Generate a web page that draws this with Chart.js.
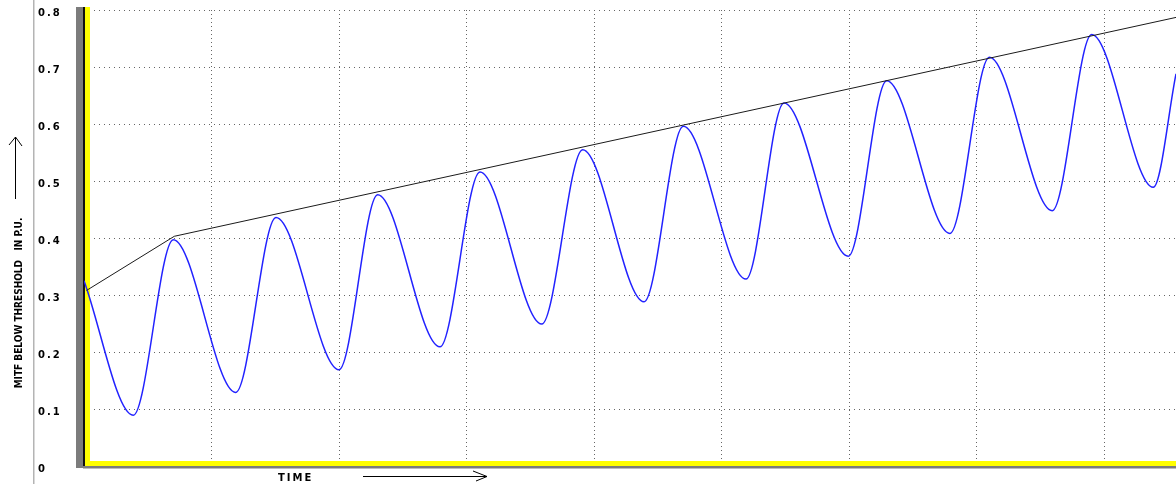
<!DOCTYPE html>
<html>
<head>
<meta charset="utf-8">
<script src="https://cdn.jsdelivr.net/npm/chart.js@4.4.1/dist/chart.umd.min.js"></script>
<style>
  html, body { margin: 0; padding: 0; background: #fff; }
  #wrap { width: 1176px; height: 484px; position: relative; }
</style>
</head>
<body>
<div id="wrap"><canvas id="mitfChart"></canvas></div>
<script>
// MITF response (time in grid units)
const waveTime = [0, 0.386, 0.700, 1.189, 1.505, 1.999, 2.302, 2.790, 3.104, 3.588, 3.909, 4.390,
                  4.698, 5.189, 5.487, 5.991, 6.292, 6.788, 7.097, 7.590, 7.899, 8.382, 8.560];
const waveMitf = [0.325, 0.089, 0.397, 0.129, 0.436, 0.169, 0.476, 0.209, 0.516, 0.249, 0.555, 0.288,
                  0.596, 0.328, 0.637, 0.368, 0.676, 0.408, 0.717, 0.448, 0.757, 0.489, 0.688];

// envelope through the peaks
const envTime = [0.02, 0.708, 8.56];
const envMitf = [0.308, 0.403, 0.787];

const xTicks = [0, 1, 2, 3, 4, 5, 6, 7, 8];
const yTicks = [0, 0.1, 0.2, 0.3, 0.4, 0.5, 0.6, 0.7, 0.8];
const yTickLabels = ['0', '0.1', '0.2', '0.3', '0.4', '0.5', '0.6', '0.7', '0.8'];

const yTitle = 'MITF BELOW THRESHOLD   IN P.U.';
const xTitle = 'TIME';

const toPoints = (xs, ys) => xs.map((x, i) => ({ x, y: ys[i] }));

const framePlugin = {
  id: 'frame',
  beforeDraw(chart) {
    chart.ctx.letterSpacing = '2px';
  },
  beforeDatasetsDraw(chart) {
    const { ctx, chartArea: a } = chart;
    const h = a.bottom - a.top;
    ctx.save();
    // grey shadow, left and bottom
    ctx.fillStyle = '#7c7c7c';
    ctx.fillRect(a.left - 8, a.top - 3, 7, h + 5);
    ctx.fillRect(a.left - 1, a.bottom, a.right - a.left + 1, 2.5);
    ctx.fillStyle = '#111';
    ctx.fillRect(a.left - 1, a.top - 3, 2, h + 3);
    // yellow axes
    ctx.fillStyle = '#ffff00';
    ctx.fillRect(a.left + 1, a.top - 3, 5, h + 3);
    ctx.fillRect(a.left + 1, a.bottom - 5, a.right - a.left, 5);
    ctx.restore();
  },
  afterDraw(chart) {
    const ctx = chart.ctx;
    ctx.save();
    ctx.letterSpacing = '0px';
    // thin grey rule left of the tick labels
    ctx.fillStyle = '#b4b4b4';
    ctx.fillRect(33, 0, 1.5, 484);

    // y title + arrow
    ctx.fillStyle = '#000';
    ctx.font = 'bold 10px "DejaVu Sans Condensed", "DejaVu Sans", sans-serif';
    ctx.textAlign = 'center';
    ctx.textBaseline = 'middle';
    ctx.save();
    ctx.translate(19, 303);
    ctx.rotate(-Math.PI / 2);
    ctx.fillText(yTitle, 0, 0, 180);
    ctx.restore();

    ctx.strokeStyle = '#000';
    ctx.lineWidth = 1;
    ctx.beginPath();
    ctx.moveTo(15.5, 199); ctx.lineTo(15.5, 137);
    ctx.moveTo(15.5, 137); ctx.lineTo(9, 145);
    ctx.moveTo(15.5, 137); ctx.lineTo(22, 146);
    ctx.stroke();

    // x title + arrow
    ctx.letterSpacing = '2px';
    ctx.font = 'bold 10px "DejaVu Sans", sans-serif';
    ctx.textAlign = 'left';
    ctx.fillText(xTitle, 278, 478);
    ctx.beginPath();
    ctx.moveTo(363, 476.5); ctx.lineTo(487, 476.5);
    ctx.moveTo(487, 476.5); ctx.lineTo(473, 471);
    ctx.moveTo(487, 476.5); ctx.lineTo(476, 481);
    ctx.stroke();
    ctx.restore();
    ctx.letterSpacing = '0px';
  }
};

new Chart(document.getElementById('mitfChart'), {
  type: 'line',
  data: {
    datasets: [
      {
        label: 'envelope',
        data: toPoints(envTime, envMitf),
        borderColor: '#1a1a1a',
        borderWidth: 1,
        pointRadius: 0,
        tension: 0
      },
      {
        label: 'MITF',
        data: toPoints(waveTime, waveMitf),
        borderColor: '#2222ff',
        borderWidth: 1.5,
        pointRadius: 0,
        cubicInterpolationMode: 'monotone'
      }
    ]
  },
  options: {
    responsive: true,
    maintainAspectRatio: false,
    animation: false,
    layout: { padding: { left: 38, top: 10, right: 0, bottom: 0 } },
    plugins: {
      legend: { display: false },
      tooltip: { enabled: false }
    },
    scales: {
      x: {
        type: 'linear',
        min: 0,
        max: 8.56,
        afterBuildTicks: (s) => { s.ticks = xTicks.map(v => ({ value: v })); },
        afterFit: (s) => { s.height = 18; },
        ticks: { display: false },
        grid: { color: '#666', lineWidth: 1, drawTicks: false },
        border: { display: false, dash: [1, 3] }
      },
      y: {
        type: 'linear',
        min: 0,
        max: 0.8,
        afterBuildTicks: (s) => { s.ticks = yTicks.map(v => ({ value: v })); },
        afterFit: (s) => { s.width = 46; },
        ticks: {
          callback: (v, i) => yTickLabels[i],
          color: '#000',
          font: { family: 'DejaVu Sans', weight: 'bold', size: 10 },
          crossAlign: 'far',
          labelOffset: 3,
          padding: 0
        },
        grid: { color: '#666', lineWidth: 1, drawTicks: false },
        border: { display: false, dash: [1, 4] }
      }
    }
  },
  plugins: [framePlugin]
});
</script>
</body>
</html>
